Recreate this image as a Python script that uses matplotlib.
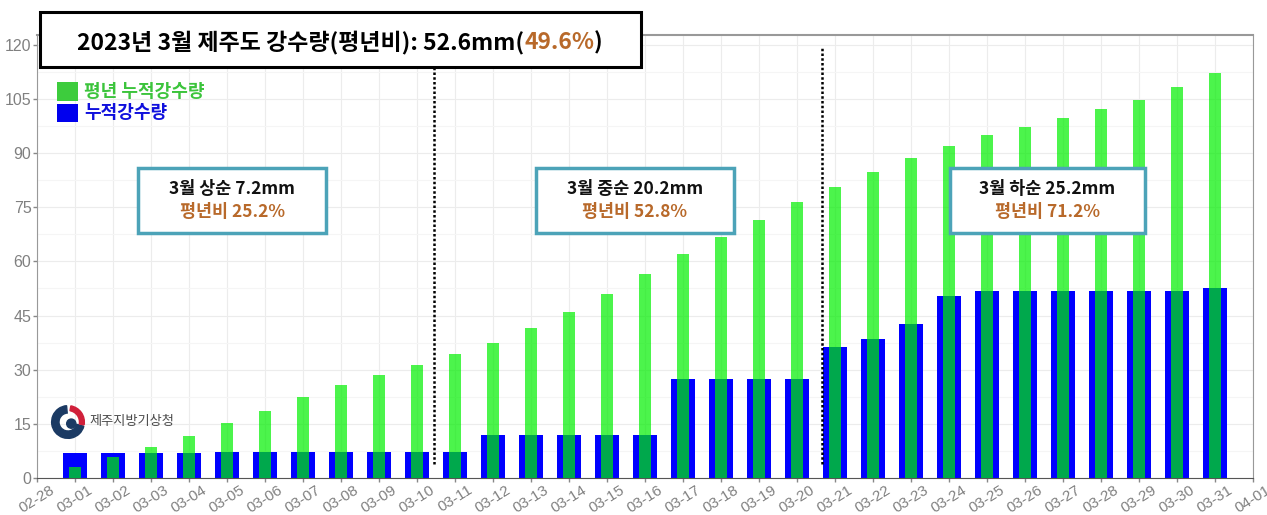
import matplotlib
matplotlib.use('Agg')
import matplotlib.pyplot as plt
import numpy as np
from matplotlib.patches import Rectangle, Wedge, Circle
from matplotlib.offsetbox import TextArea, HPacker, AnchoredOffsetbox

plt.rcParams['font.family'] = ['Noto Sans CJK KR', 'DejaVu Sans']

# ---- data ----
labels = ['02-28', '03-01', '03-02', '03-03', '03-04', '03-05', '03-06', '03-07',
          '03-08', '03-09', '03-10', '03-11', '03-12', '03-13', '03-14', '03-15',
          '03-16', '03-17', '03-18', '03-19', '03-20', '03-21', '03-22', '03-23',
          '03-24', '03-25', '03-26', '03-27', '03-28', '03-29', '03-30', '03-31',
          '04-01']
day = list(range(1, 32))
normal = [3.1, 5.7, 8.7, 11.7, 15.3, 18.6, 22.4, 25.8, 28.5, 31.3,
          34.3, 37.5, 41.5, 46.1, 50.9, 56.5, 62.0, 66.7, 71.5, 76.5,
          80.7, 84.8, 88.5, 92.0, 95.0, 97.3, 99.8, 102.1, 104.7, 108.4, 112.1]
accum = [6.8, 6.8, 6.8, 6.8, 7.2, 7.2, 7.2, 7.2, 7.2, 7.2,
         7.2, 12.0, 12.0, 12.0, 12.0, 12.0, 27.4, 27.4, 27.4, 27.4,
         36.2, 38.5, 42.7, 50.4, 51.7, 51.9, 51.9, 51.9, 51.9, 51.9, 52.6]
splits = [10.45, 20.65]

title_parts = ['2023년 3월 제주도 강수량(평년비): 52.6mm(', '49.6%', ')']
periods = ['3월 상순 7.2mm', '3월 중순 20.2mm', '3월 하순 25.2mm']
ratios = ['평년비 25.2%', '평년비 52.8%', '평년비 71.2%']
legend_labels = ['평년 누적강수량', '누적강수량']

W, H = 1267, 515
def fx(px):
    return px / W
def fy(py):
    return 1 - py / H

brown = '#b8692a'
teal = '#4ca3b8'

fig = plt.figure(figsize=(W / 100, H / 100), dpi=100)
ax = fig.add_axes([fx(37), fy(478), (1253 - 37) / W, (478 - 35) / H])

ax.bar(day, accum, width=0.65, color='#0000ff', zorder=2)
ax.bar(day, normal, width=0.33, color='#00f000', alpha=0.7, zorder=3)
ax.vlines(splits, 4, 119, colors='black', linestyles=(0, (1, 0.9)), linewidth=1.8, zorder=4)

ax.set_xlim(0, 32)
ax.set_ylim(0, 122.7)
ax.set_xticks(range(len(labels)))
ax.set_xticklabels(labels, rotation=32, ha='center')
ax.set_yticks(np.arange(0, 121, 15))
ax.set_yticks(np.arange(7.5, 122, 15), minor=True)
ax.tick_params(axis='both', which='major', colors='#888888', labelcolor='#808080',
               length=3, width=1, labelsize=11.5, pad=1)
ax.tick_params(axis='x', labelsize=11, pad=0.5)
ax.tick_params(which='minor', length=0)
for t in ax.get_xticklabels() + ax.get_yticklabels():
    t.set_family(['Liberation Sans', 'DejaVu Sans'])

ax.set_axisbelow(True)
ax.grid(which='major', color='#ececec', linewidth=0.8)
ax.grid(which='minor', axis='y', color='#f5f5f5', linewidth=0.8)
for s in ['top', 'right', 'left']:
    ax.spines[s].set_color('#999999')
ax.spines['top'].set_linewidth(1.5)
ax.spines['bottom'].set_color('#555555')

# ---- title box ----
fig.patches.append(Rectangle((fx(40), fy(67)), 601 / W, 55 / H, transform=fig.transFigure,
                             facecolor='white', edgecolor='black', linewidth=2.2, zorder=4))
parts = [TextArea(s, textprops=dict(color=c, fontsize=16.5, fontweight='bold'))
         for s, c in zip(title_parts, ['black', brown, 'black'])]
pack = HPacker(children=parts, align='baseline', pad=0, sep=0)
fig.add_artist(AnchoredOffsetbox(loc='center', child=pack, frameon=False, pad=0, borderpad=0,
                                 bbox_to_anchor=(fx(340), fy(42)),
                                 bbox_transform=fig.transFigure, zorder=6))

# ---- period boxes ----
boxes = [(138, 326), (536, 734), (950, 1145)]
for (x0, x1), p, r in zip(boxes, periods, ratios):
    fig.patches.append(Rectangle((fx(x0), fy(233)), (x1 - x0) / W, 65 / H,
                                 transform=fig.transFigure, facecolor='white',
                                 edgecolor=teal, linewidth=2.5, zorder=4))
    cx = fx((x0 + x1) / 2)
    fig.text(cx, fy(189), p, ha='center', va='center', fontsize=12.5,
             fontweight='bold', color='#111111', zorder=6)
    fig.text(cx, fy(212), r, ha='center', va='center', fontsize=12.5,
             fontweight='bold', color=brown, zorder=6)

# ---- legend ----
for (y0, y1), lab, c, tc in zip([(82, 101), (104, 122)], legend_labels,
                                ['#3dcc3d', '#0000ee'], ['#3cc43c', '#1010dd']):
    fig.patches.append(Rectangle((fx(57), fy(y1)), 21 / W, (y1 - y0) / H,
                                 transform=fig.transFigure, facecolor=c, edgecolor='none',
                                 zorder=5))
    fig.text(fx(84), fy((y0 + y1) / 2), lab, ha='left', va='center', fontsize=13,
             fontweight='bold', color=tc, zorder=6)

# ---- logo ----
lax = fig.add_axes([fx(50), fy(440), 36 / W, 36 / H])
lax.set_xlim(-1.1, 1.1)
lax.set_ylim(-1.1, 1.1)
lax.set_aspect('equal')
lax.axis('off')
lax.add_patch(Wedge((0, 0), 1, 95, 345, width=0.45, color='#1b3a63'))
lax.add_patch(Wedge((0, 0), 1, -10, 80, width=0.3, color='#d0203a'))
lax.add_patch(Circle((0.2, -0.1), 0.28, color='#1b3a63'))
fig.text(fx(89), fy(421), '제주지방기상청', ha='left', va='center', fontsize=9.5,
         color='#4a4a4a', zorder=6)

plt.savefig('out.png', dpi=100)
